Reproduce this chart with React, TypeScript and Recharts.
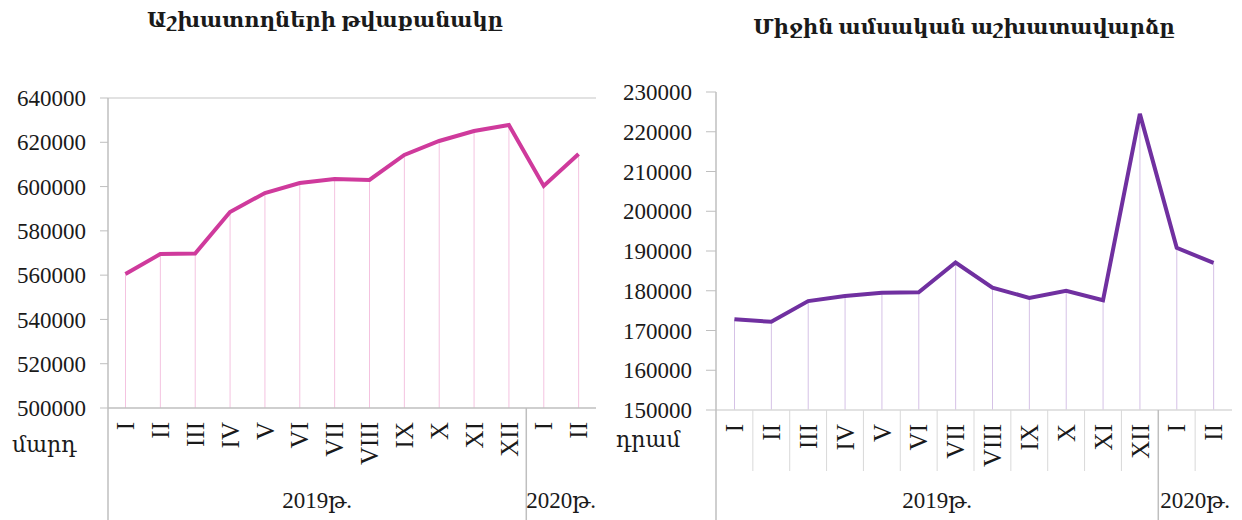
import React from 'react'
import { ComposedChart, Line, Bar, XAxis, YAxis, ReferenceLine } from 'recharts'

const SERIF = "'Liberation Serif', 'DejaVu Serif', serif"

const months = ['I', 'II', 'III', 'IV', 'V', 'VI', 'VII', 'VIII', 'IX', 'X', 'XI', 'XII', 'I', 'II']
const yearGroups = [
  { label: '2019թ.', start: 0, count: 12 },
  { label: '2020թ.', start: 12, count: 2 },
]

// Աշխատողների թվաքանակը, մարդ
const employees = [560500, 569500, 569800, 588500, 597100, 601600, 603400, 603000, 614300, 620600, 625100, 627800, 600300, 614700]
const employeeTicks = [500000, 520000, 540000, 560000, 580000, 600000, 620000, 640000]

// Միջին ամսական աշխատավարձը, դրամ
const wages = [172800, 172200, 177400, 178700, 179500, 179600, 187100, 180800, 178200, 180000, 177600, 224500, 190800, 187000]
const wageTicks = [150000, 160000, 170000, 180000, 190000, 200000, 210000, 220000, 230000]

const leftData = months.map((m, i) => ({ m, v: employees[i] }))
const rightData = months.map((m, i) => ({ m, v: wages[i] }))

const AXIS = '#bfbfbf'
const TEXT = '#1a1a1a'

function MonthTick(props: any) {
  const { x, y, payload, index, band, axisH, inner } = props
  const half = band / 2
  const left = x - half
  const group = yearGroups.find((g) => g.start === index)
  const ty = y + 14
  return (
    <g>
      <text
        x={x}
        y={ty}
        dy="0.35em"
        transform={`rotate(-90 ${x} ${ty})`}
        textAnchor="end"
        fontSize={25}
        fontFamily={SERIF}
        fill={TEXT}
      >
        {payload.value}
      </text>
      {group ? (
        <>
          <line x1={left} x2={left} y1={y} y2={y + axisH} stroke={AXIS} strokeWidth={1.5} />
          <text
            x={left + (group.count * band) / 2}
            y={y + axisH - 12}
            textAnchor="middle"
            fontSize={23}
            fontFamily={SERIF}
            fill={TEXT}
          >
            {group.label}
          </text>
        </>
      ) : inner ? (
        <line x1={left} x2={left} y1={y} y2={y + 61} stroke="#d9d9d9" strokeWidth={1} />
      ) : null}
    </g>
  )
}

export default function App() {
  const leftBand = (620 - 108 - 24) / months.length
  const rightBand = (622 - 96 - 10) / months.length
  return (
    <div style={{ position: 'absolute', left: 0, top: 0, width: 1242, height: 520, background: '#fff' }}>
      <div style={{ position: 'absolute', left: 0, top: 0 }}>
        <ComposedChart width={620} height={520} data={leftData} margin={{ top: 98, right: 24, bottom: 0, left: 0 }}>
          <XAxis
            dataKey="m"
            height={112}
            interval={0}
            tickLine={false}
            tickSize={0}
            tickMargin={0}
            axisLine={{ stroke: AXIS, strokeWidth: 1.5 }}
            tick={(p: any) => <MonthTick {...p} band={leftBand} axisH={112} inner={false} />}
          />
          <YAxis
            width={108}
            domain={[500000, 640000]}
            ticks={employeeTicks}
            interval={0}
            tickSize={8}
            tickMargin={14}
            axisLine={{ stroke: AXIS, strokeWidth: 1.5 }}
            tickLine={{ stroke: AXIS }}
            tick={{ fontSize: 23, fontFamily: SERIF, fill: TEXT }}
          />
          <ReferenceLine y={640000} stroke="#d9d9d9" strokeWidth={1.5} />
          <Bar dataKey="v" barSize={1} fill="#f4c3e0" isAnimationActive={false} />
          <Line type="linear" dataKey="v" stroke="#cf3a9c" strokeWidth={4} dot={false} isAnimationActive={false} />
        </ComposedChart>
      </div>
      <div style={{ position: 'absolute', left: 620, top: 0 }}>
        <ComposedChart width={622} height={520} data={rightData} margin={{ top: 92, right: 10, bottom: 0, left: 0 }}>
          <XAxis
            dataKey="m"
            height={110}
            interval={0}
            tickLine={false}
            tickSize={0}
            tickMargin={0}
            axisLine={{ stroke: '#d9d9d9', strokeWidth: 1.5 }}
            tick={(p: any) => <MonthTick {...p} band={rightBand} axisH={110} inner={true} />}
          />
          <YAxis
            width={96}
            domain={[150000, 230000]}
            ticks={wageTicks}
            interval={0}
            tickSize={10}
            tickMargin={14}
            axisLine={{ stroke: AXIS, strokeWidth: 1.5 }}
            tickLine={{ stroke: AXIS }}
            tick={{ fontSize: 23, fontFamily: SERIF, fill: TEXT }}
          />
          <Bar dataKey="v" barSize={1} fill="#d5c1e6" isAnimationActive={false} />
          <Line type="linear" dataKey="v" stroke="#7030a0" strokeWidth={4} dot={false} isAnimationActive={false} />
        </ComposedChart>
      </div>
      <svg
        width={1242}
        height={520}
        style={{ position: 'absolute', left: 0, top: 0, pointerEvents: 'none' }}
        fontFamily={SERIF}
        fill={TEXT}
      >
        <text x={325} y={27} textAnchor="middle" fontSize={21} fontWeight="bold">
          Աշխատողների թվաքանակը
        </text>
        <text x={964} y={34} textAnchor="middle" fontSize={21} fontWeight="bold">
          Միջին ամսական աշխատավարձը
        </text>
        <text x={12} y={452} fontSize={22}>
          մարդ
        </text>
        <text x={616} y={447} fontSize={22}>
          դրամ
        </text>
      </svg>
    </div>
  )
}
